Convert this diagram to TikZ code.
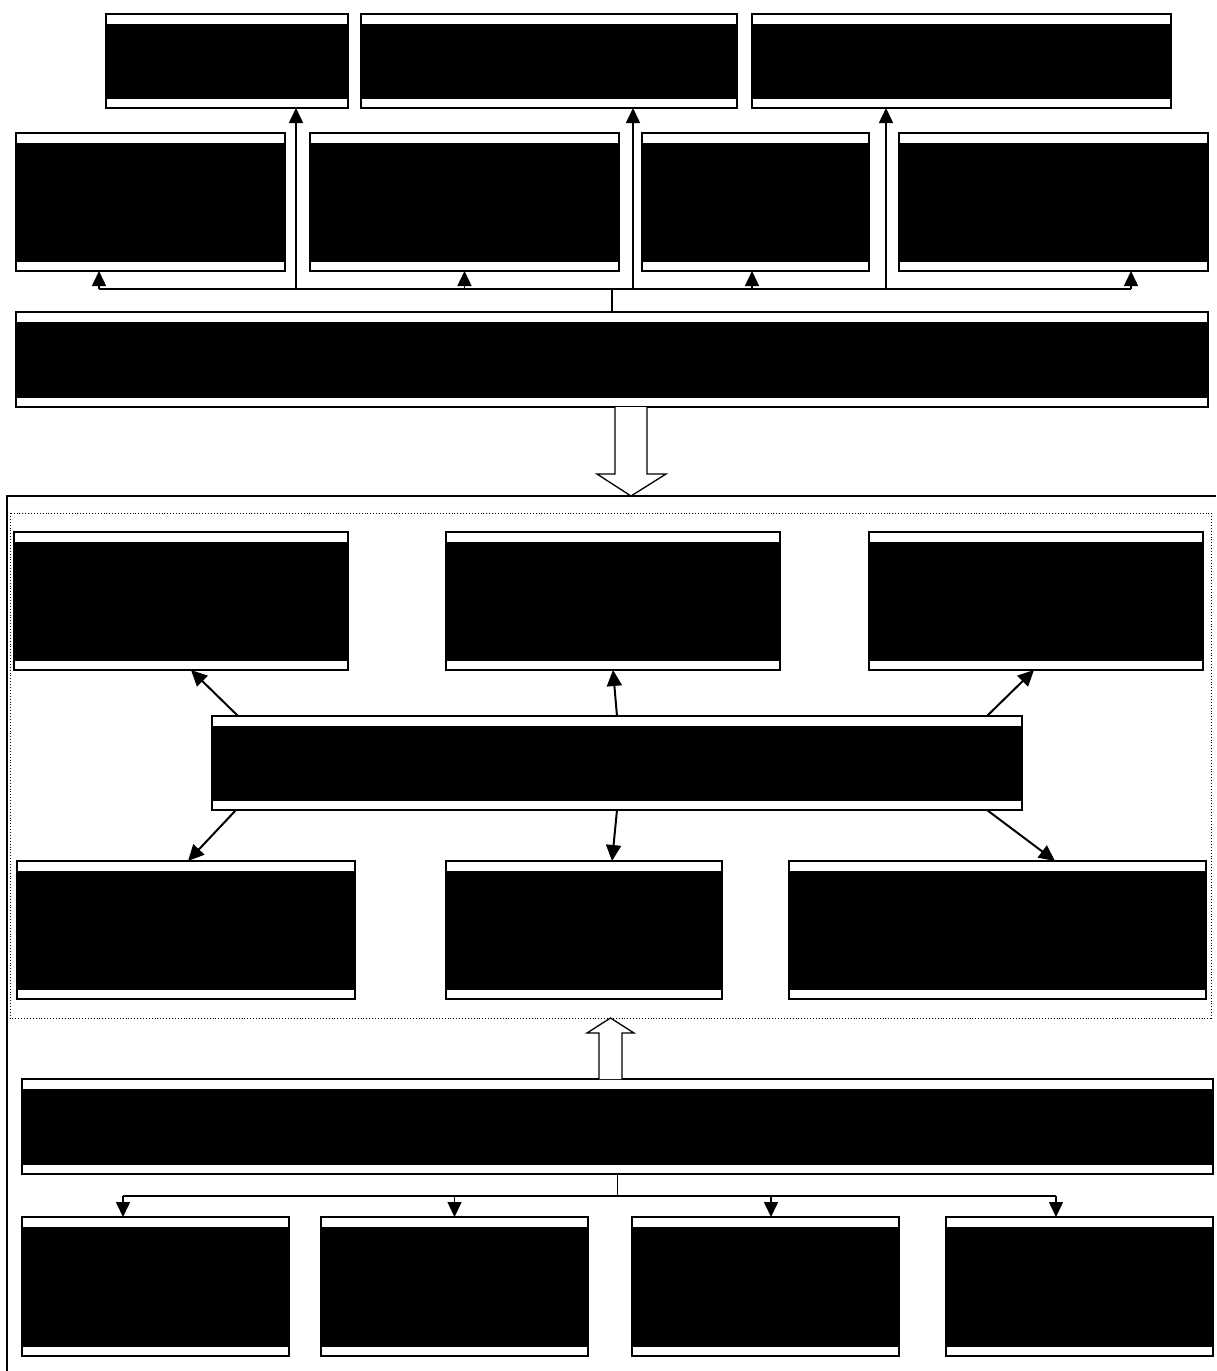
\documentclass[tikz,border=0pt]{standalone}
\usetikzlibrary{arrows.meta,calc}
\tikzset{
  bx/.style={draw=black, line width=1.3pt, fill=white, inner sep=0pt, outer sep=0pt,
    path picture={\fill[black] ([xshift=1.2pt,yshift=9.5pt]path picture bounding box.south west) rectangle ([xshift=-1.2pt,yshift=-9.5pt]path picture bounding box.north east);}},
  link/.style={line width=1.5pt, draw=black},
  arr/.style={link, -{Triangle[length=15pt,width=14pt]}},
  darr/.style={line width=2pt, -{Triangle[length=16pt,width=15pt]}},
  hollow/.style={draw=black, line width=1.3pt, fill=white, line join=miter},
  frame/.style={draw=black, line width=1.5pt},
  dotframe/.style={draw=black, line width=0.9pt, dotted}
}
\newcommand\mkbox[5]{\node[bx, minimum width={(#4-#2)*1pt}, minimum height={(#5-#3)*1pt}] (#1) at ({(#2+#4)/2},{(#3+#5)/2}) {};}
\begin{document}
\begin{tikzpicture}[x=1pt,y=-1pt]
\useasboundingbox (0,0) rectangle (1216,1371);
% frames
\draw[frame] (1216,496) -- (7,496) -- (7,1371);
\draw[dotframe] (10,513) rectangle (1211,1018);
% top rows
\mkbox{t1}{106}{14}{348}{108}
\mkbox{t2}{361}{14}{737}{108}
\mkbox{t3}{752}{14}{1171}{108}
\mkbox{m1}{16}{133}{285}{271}
\mkbox{m2}{310}{133}{619}{271}
\mkbox{m3}{642}{133}{869}{271}
\mkbox{m4}{899}{133}{1208}{271}
\mkbox{b1}{16}{312}{1208}{407}
% middle
\mkbox{a1}{14}{532}{348}{670}
\mkbox{a2}{446}{532}{780}{670}
\mkbox{a3}{869}{532}{1203}{670}
\mkbox{c}{212}{716}{1022}{810}
\mkbox{e1}{17}{861}{355}{999}
\mkbox{e2}{446}{861}{722}{999}
\mkbox{e3}{789}{861}{1206}{999}
% bottom
\mkbox{b2}{22}{1079}{1213}{1174}
\mkbox{d1}{22}{1217}{289}{1356}
\mkbox{d2}{321}{1217}{588}{1356}
\mkbox{d3}{632}{1217}{899}{1356}
\mkbox{d4}{946}{1217}{1213}{1356}
% top connectors
\coordinate (h1) at ($(b1.north)+(0,-23)$);
\coordinate (m1a) at ([xshift=-51.5pt]m1.south);
\coordinate (m2a) at (m2.south);
\coordinate (m3a) at ([xshift=-3.5pt]m3.south);
\coordinate (m4a) at ([xshift=77.5pt]m4.south);
\coordinate (t1a) at ([xshift=69pt]t1.south);
\coordinate (t2a) at ([xshift=84pt]t2.south);
\coordinate (t3a) at ([xshift=-75.5pt]t3.south);
\draw[link] (b1.north) -- (h1);
\draw[link] (m1a |- h1) -- (m4a |- h1);
\foreach \p in {m1a,m2a,m3a,m4a,t1a,t2a,t3a} \draw[arr] (\p |- h1) -- (\p);
% hollow arrow down
\coordinate (ha1) at (631,407);
\draw[hollow] ($(ha1)+(-16,0)$) -- ($(ha1)+(-16,67)$) -- ($(ha1)+(-34,67)$) -- ($(ha1)+(0,89)$) -- ($(ha1)+(35,67)$) -- ($(ha1)+(16,67)$) -- ($(ha1)+(16,0)$);
% centre arrows
\draw[darr] ([xshift=26pt]c.north west) -- ([xshift=10pt]a1.south);
\draw[darr] (c.north) -- (a2.south);
\draw[darr] ([xshift=-35pt]c.north east) -- ([xshift=-2pt]a3.south);
\draw[darr] ([xshift=24pt]c.south west) -- ([xshift=2pt]e1.north);
\draw[darr] (c.south) -- ([xshift=28pt]e2.north);
\draw[darr] ([xshift=-35pt]c.south east) -- ([xshift=57.5pt]e3.north);
% hollow arrow up
\coordinate (ha2) at (610.5,1079);
\draw[hollow] ($(ha2)+(-11.5,0)$) -- ($(ha2)+(-11.5,-46)$) -- ($(ha2)+(-23.5,-46)$) -- ($(ha2)+(0,-61)$) -- ($(ha2)+(23.5,-46)$) -- ($(ha2)+(11.5,-46)$) -- ($(ha2)+(11.5,0)$);
% bottom connectors
\coordinate (h2) at ($(b2.south)+(0,22)$);
\coordinate (d1a) at ([xshift=-32.5pt]d1.north);
\coordinate (d2a) at (d2.north);
\coordinate (d3a) at ([xshift=5.5pt]d3.north);
\coordinate (d4a) at ([xshift=-23.5pt]d4.north);
\draw[link] (b2.south) -- (h2);
\draw[link] (d1a |- h2) -- (d4a |- h2);
\foreach \p in {d1a,d2a,d3a,d4a} \draw[arr] (\p |- h2) -- (\p);
\end{tikzpicture}
\end{document}
